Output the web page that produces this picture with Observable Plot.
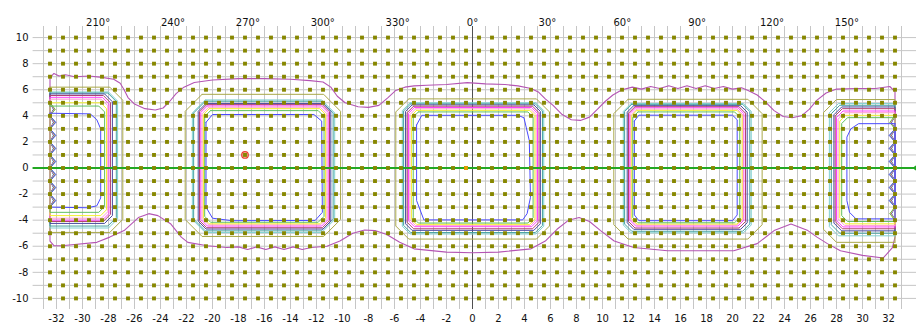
<!DOCTYPE html>
<html>
<head>
<meta charset="utf-8">
<script src="https://cdn.jsdelivr.net/npm/d3@7"></script>
<script src="https://cdn.jsdelivr.net/npm/@observablehq/plot@0.6"></script>
<style>
  body { margin: 0; background: #fff; }
</style>
</head>
<body>
<div id="chart"></div>
<script>
// Axis ticks
const xTicks = d3.range(-32, 33, 2);
const yTicks = d3.range(-10, 11, 2);
const headingDegrees = [210, 240, 270, 300, 330, 0, 30, 60, 90, 120, 150];
const unitsPerDegree = 0.192;

// Sample lattice (x at half units, y at whole units)
const sampleX = d3.range(-32.5, 33, 1);
const sampleY = d3.range(-10, 11, 1);
const gridX = d3.range(-33, 34, 1);

// Contour levels, outermost to innermost (the envelope is drawn separately)
const levelColors = ["#aaa84a", "#80d0d0", "#46a2a2", "#4a4aa0", "#b04070", "#ff40ff", "#ff9ccf", "#f4f030", "#60c060", "#4a4aff"];
const envelopeColor = "#b455b4";

const edgeLeft = -32.5;
const edgeRight = 32.5;

// Closed loops: [left, right, bottom, top, corner]
const loopsB = [
  [-22.1, -10.15, -5.25, 5.65, 1.3],
  [-21.55, -10.6, -4.95, 5.22, 1.0],
  [-21.45, -10.72, -4.82, 5.12, 0.9],
  [-21.1, -10.9, -4.68, 4.95, 0.6],
  [-21.0, -11.0, -4.58, 4.86, 0.55],
  [-20.9, -11.1, -4.45, 4.76, 0.5],
  [-20.8, -11.2, -4.36, 4.66, 0.5],
  [-20.7, -11.3, -4.28, 4.55, 0.45],
  [-20.6, -11.42, -4.16, 4.4, 0.45]
];
const loopsC = [
  [-5.9, 5.92, -5.45, 5.3, 1.0],
  [-5.4, 5.48, -5.06, 5.0, 0.6],
  [-5.3, 5.38, -4.95, 4.92, 0.55],
  [-5.15, 5.22, -4.78, 4.84, 0.5],
  [-5.03, 5.12, -4.66, 4.74, 0.5],
  [-4.92, 5.0, -4.5, 4.64, 0.45],
  [-4.82, 4.9, -4.42, 4.54, 0.45],
  [-4.7, 4.8, -4.32, 4.42, 0.4],
  [-4.56, 4.66, -4.22, 4.3, 0.4]
];
const loopsD = [
  [10.87, 22.28, -5.45, 5.27, 1.1],
  [11.6, 21.44, -4.97, 4.94, 0.6],
  [11.7, 21.33, -4.85, 4.88, 0.55],
  [11.9, 21.13, -4.7, 4.78, 0.5],
  [12.0, 21.0, -4.6, 4.7, 0.5],
  [12.1, 20.87, -4.45, 4.62, 0.45],
  [12.18, 20.8, -4.38, 4.52, 0.45],
  [12.25, 20.74, -4.3, 4.42, 0.4],
  [12.33, 20.56, -4.2, 4.3, 0.4]
];
// Loops cut by the left edge: [right, bottom, top, corner]
const loopsA = [
  [-26.9, -4.94, 6.2, 1.0],
  [-27.3, -4.6, 5.83, 0.7],
  [-27.4, -4.45, 5.75, 0.65],
  [-27.7, -4.25, 5.68, 0.6],
  [-27.85, -4.1, 5.56, 0.55],
  [-27.97, -4.0, 5.42, 0.5],
  [-28.05, -3.85, 5.28, 0.5],
  [-28.15, -3.65, 5.0, 0.45],
  [-28.3, -3.4, 4.75, 0.45]
];
// Loops cut by the right edge: [left, bottom, top, corner]
const loopsE = [
  [27.0, -5.7, 5.25, 1.0],
  [27.45, -5.2, 4.94, 0.7],
  [27.6, -5.0, 4.81, 0.65],
  [27.8, -4.82, 4.68, 0.6],
  [27.9, -4.66, 4.55, 0.55],
  [28.0, -4.52, 4.37, 0.5],
  [28.12, -4.4, 4.24, 0.5],
  [28.25, -4.28, 4.04, 0.45],
  [28.4, -4.1, 3.86, 0.45]
];

// Innermost level, traced point by point
const innerA = [[-32.5, 4.2], [-29.4, 4.15], [-28.9, 3.7], [-28.6, 3.0], [-28.6, -2.3], [-28.9, -2.9], [-29.6, -3.05], [-32.5, -3.0]];
const innerB = [[-20.5, 3.5], [-20.0, 4.1], [-12.2, 4.1], [-11.6, 3.6], [-11.55, -3.4], [-12.1, -4.02], [-18.5, -4.04], [-20.0, -3.85], [-20.5, -3.0], [-20.5, 3.5]];
const innerC = [[-4.3, 3.3], [-3.9, 4.04], [3.5, 4.04], [3.96, 3.85], [4.37, 2.1], [4.46, -2.25], [4.2, -3.5], [3.86, -3.98], [-3.74, -3.98], [-4.3, -2.5], [-4.3, 3.3]];
const innerD = [[12.45, 3.6], [12.8, 4.05], [20.0, 4.05], [20.36, 3.7], [20.36, -3.6], [20.0, -4.04], [12.8, -4.04], [12.45, -3.6], [12.45, 3.6]];
const innerE = [[32.5, 3.4], [29.7, 3.4], [29.1, 3.0], [28.8, 2.37], [28.8, -2.5], [29.0, -3.4], [29.5, -3.9], [32.5, -3.9]];

// Saw-tooth where the loops meet the edges
const toothA = [-2.5, -1.5, -0.5, 0.5, 1.5, 2.5, 3.5, 4.5];
const toothE = [3.5, 2.5, 1.5, 0.5, -0.5, -1.5, -2.5, -3.5];
const toothDepth = [0, 0.25, 0.28, 0.3, 0.32, 0.34, 0.36, 0.38, 0.4, 0.45];

// Outer envelope, top run left to right, bottom run right to left
const envelopeTop = [
  [-32.5, 6.9], [-32.2, 7.25], [-31.8, 7.05], [-31.3, 7.15], [-30.6, 7.0], [-29.5, 7.05], [-28.5, 6.95],
  [-27.6, 6.8], [-27.1, 6.5], [-26.8, 6.0], [-26.5, 5.4], [-26.0, 4.9], [-25.2, 4.55], [-24.4, 4.45],
  [-23.8, 4.6], [-23.3, 5.1], [-22.8, 5.7], [-22.2, 6.2], [-21.4, 6.55], [-20, 6.75], [-18, 6.85],
  [-16, 6.85], [-14, 6.8], [-12.5, 6.7], [-11.5, 6.6], [-10.9, 6.2], [-10.4, 5.5], [-9.8, 5.0],
  [-8.8, 4.7], [-8.0, 4.65], [-7.2, 4.8], [-6.5, 5.4], [-5.9, 5.95], [-5.2, 6.2], [-4.5, 6.3],
  [-3.5, 6.35], [-2, 6.4], [-0.4, 6.55], [1, 6.45], [2.5, 6.4], [3.5, 6.3], [4.5, 6.1], [5.1, 5.8],
  [5.6, 5.3], [6.2, 4.8], [6.9, 4.1], [7.6, 3.7], [8.3, 3.65], [9.0, 3.9], [9.6, 4.5], [10.2, 5.1],
  [10.8, 5.6], [11.5, 6.0], [12.3, 6.2], [13.0, 6.05], [13.7, 6.25], [14.4, 6.1], [15.1, 6.3],
  [15.8, 6.1], [16.5, 6.3], [17.2, 6.1], [17.9, 6.3], [18.6, 6.1], [19.3, 6.25], [20.0, 6.05],
  [20.7, 6.15], [21.2, 5.95], [21.9, 5.6], [22.5, 5.1], [23.2, 4.4], [23.9, 3.95], [24.6, 3.85],
  [25.3, 4.0], [25.9, 4.5], [26.5, 5.2], [27.2, 5.75], [28, 6.05], [29.5, 6.1], [31, 6.1],
  [32.1, 6.25], [32.5, 5.85]
];
const envelopeBottom = [
  [32.5, -5.3], [32.3, -6.1], [31.6, -6.9], [30.0, -6.7], [28.3, -6.35], [27.3, -5.8], [26.5, -5.3],
  [25.8, -4.8], [24.5, -4.3], [23.2, -4.8], [21.9, -5.8], [20.1, -6.35], [15, -6.35], [12.4, -6.1],
  [10.9, -5.6], [9.85, -4.8], [9.0, -4.1], [8.2, -3.8], [7.4, -4.0], [6.5, -4.7], [5.6, -5.6],
  [4.5, -6.2], [2, -6.45], [0, -6.5], [-2, -6.45], [-4.5, -6.2], [-5.6, -5.7], [-6.6, -5.1],
  [-7.5, -4.8], [-8.3, -4.75], [-9.2, -5.0], [-10.2, -5.6], [-11.2, -6.0], [-12.4, -6.1],
  [-13.1, -6.25], [-13.8, -6.05], [-14.5, -6.25], [-15.2, -6.05], [-15.9, -6.25], [-16.6, -6.05],
  [-17.3, -6.25], [-18.0, -6.05], [-18.9, -6.1], [-20.4, -5.96], [-21.9, -5.7], [-22.4, -5.3],
  [-23.2, -4.3], [-24.2, -3.65], [-24.9, -3.5], [-25.7, -3.8], [-26.8, -4.8], [-27.9, -5.3],
  [-28.9, -5.7], [-31.6, -5.96], [-32.2, -5.95], [-32.5, -5.6]
];

// Marked samples
const markedRing = [[-17.5, 1]];
const markedCenter = [[-0.5, 0]];

// ---- build the contour paths ----
function chamfer([l, r, b, t, c]) {
  return [[l + c, t], [r - c, t], [r, t - c], [r, b + c], [r - c, b], [l + c, b], [l, b + c], [l, t - c], [l + c, t]];
}
function teethUp(edge, dir, depth, b, t, pts) {
  if (depth > 0) for (const a of toothA) {
    if (a - 0.5 >= b - 0.05 && a + 0.5 <= t + 0.3) pts.push([edge, a - 0.5], [edge + dir * depth, a], [edge, a + 0.5]);
  }
}
function teethDown(edge, dir, depth, b, t, pts) {
  if (depth > 0) for (const a of toothE) {
    if (a - 0.5 >= b - 0.05 && a + 0.5 <= t + 0.3) pts.push([edge, a + 0.5], [edge + dir * depth, a], [edge, a - 0.5]);
  }
}
function leftLoop([r, b, t, c], depth) {
  const pts = [[edgeLeft, t], [r - c, t], [r, t - c], [r, b + c], [r - c, b], [edgeLeft, b]];
  teethUp(edgeLeft, 1, depth, b, t, pts);
  pts.push([edgeLeft, t]);
  return pts;
}
function rightLoop([l, b, t, c], depth) {
  const pts = [[edgeRight, b], [l + c, b], [l, b + c], [l, t - c], [l + c, t], [edgeRight, t]];
  teethDown(edgeRight, -1, depth, b, t, pts);
  pts.push([edgeRight, b]);
  return pts;
}

const paths = [];
levelColors.slice(0, 9).forEach((color, i) => {
  paths.push({color, pts: leftLoop(loopsA[i], toothDepth[i])});
  paths.push({color, pts: chamfer(loopsB[i])});
  paths.push({color, pts: chamfer(loopsC[i])});
  paths.push({color, pts: chamfer(loopsD[i])});
  paths.push({color, pts: rightLoop(loopsE[i], toothDepth[i])});
});
const blue = levelColors[9];
{
  const a = innerA.slice();
  teethUp(edgeLeft, 1, toothDepth[9], -3.0, 4.2, a);
  a.push(innerA[0]);
  const e = innerE.slice();
  teethDown(edgeRight, -1, toothDepth[9], -3.9, 3.4, e);
  e.push(innerE[0]);
  paths.push({color: blue, pts: a}, {color: blue, pts: innerB}, {color: blue, pts: innerC}, {color: blue, pts: innerD}, {color: blue, pts: e});
}
const envelope = [...envelopeTop, ...envelopeBottom, envelopeTop[0]];

const contourRows = paths.flatMap((p, id) => p.pts.map(([x, y]) => ({x, y, id, color: p.color})));
const samples = sampleY.flatMap(y => sampleX.map(x => ({x, y})));
const headings = headingDegrees.map(d => ({x: (d > 180 ? d - 360 : d) * unitsPerDegree, label: `${d}°`}));

const chart = Plot.plot({
  width: 916,
  height: 324,
  marginLeft: 43,
  marginRight: 15,
  marginTop: 26,
  marginBottom: 15,
  x: {domain: [-33, 33], label: null},
  y: {domain: [-10.85, 10.85], label: null},
  color: {type: "identity"},
  style: {fontFamily: "DejaVu Sans, sans-serif", fontSize: "10px", background: "#fff", color: "#111"},
  marks: [
    Plot.ruleY(sampleY, {x1: -33.8, x2: 34.4, stroke: "#c6c6c6", strokeWidth: 1}),
    Plot.ruleX(gridX, {stroke: "#c6c6c6", strokeWidth: 1}),
    Plot.ruleX([0], {stroke: "#505050", strokeWidth: 1}),
    Plot.line(envelope, {x: d => d[0], y: d => d[1], stroke: envelopeColor, strokeWidth: 1.1}),
    Plot.line(contourRows, {x: "x", y: "y", z: "id", stroke: "color", strokeWidth: 1}),
    Plot.ruleY([0], {x1: -33.8, x2: 34.15, stroke: "#22a822", strokeWidth: 2}),
    Plot.dot([[34.15, 0]], {x: d => d[0], y: d => d[1], r: 2.5, fill: "#22a822"}),
    Plot.dot(markedRing, {x: d => d[0], y: d => d[1], r: 3.3, stroke: "#e84030", strokeWidth: 1.2, fill: "#f08050", fillOpacity: 0.45}),
    Plot.dot(samples, {x: "x", y: "y", symbol: "square", r: 2.2, fill: "#878700"}),
    Plot.dot(markedCenter, {x: d => d[0], y: d => d[1], symbol: "square", r: 2.0, fill: "#f0a000"}),
    Plot.axisX(xTicks, {anchor: "bottom", tickSize: 0, tickPadding: 5, tickFormat: d => String(d)}),
    Plot.axisY(yTicks, {anchor: "left", tickSize: 0, tickPadding: 15, tickFormat: d => String(d)}),
    Plot.text(headings, {x: "x", text: "label", frameAnchor: "top", dy: -8, fontSize: 10})
  ]
});
document.getElementById("chart").appendChild(chart);
</script>
</body>
</html>
